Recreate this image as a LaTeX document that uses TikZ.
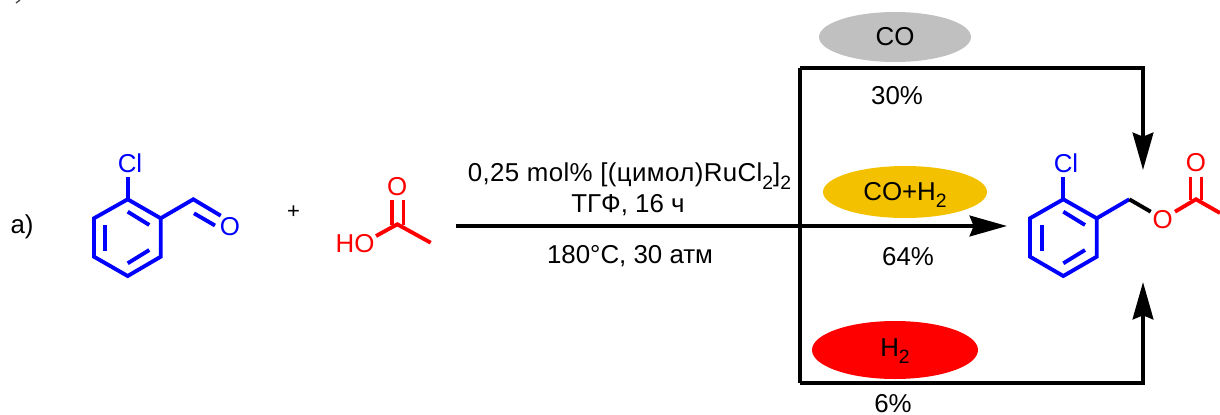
\documentclass[tikz,border=0pt]{standalone}
\usepackage{fontspec}
\setmainfont{Liberation Sans}
\usetikzlibrary{arrows.meta}
\newcommand{\subsc}[1]{\raisebox{-0.3em}{\fontsize{14.5}{14.5}\selectfont #1}}
\definecolor{molblue}{RGB}{0,0,255}
\definecolor{molred}{RGB}{255,0,0}
\definecolor{gasgray}{RGB}{192,192,192}
\definecolor{gasgold}{RGB}{244,193,0}
\tikzset{
  txt/.style={inner sep=0pt,text=black,font=\fontsize{19.4}{23}\selectfont,align=center},
  smalltxt/.style={inner sep=0pt,text=black,font=\fontsize{16.5}{20}\selectfont},
  bluelab/.style={inner sep=0pt,text=molblue,font=\fontsize{19.4}{23}\selectfont},
  redlab/.style={inner sep=0pt,text=molred,font=\fontsize{19.4}{23}\selectfont},
  bluebond/.style={draw=molblue,line width=2.9pt,line join=miter},
  redbond/.style={draw=molred,line width=2.9pt,line join=miter},
  blackbond/.style={draw=black,line width=2.9pt},
  rail/.style={draw=black,line width=2.9pt,line join=miter},
  railarrow/.style={rail,-{Stealth[length=28pt,width=15.5pt,inset=3pt]}},
}
\begin{document}
\begin{tikzpicture}[x=0.75pt,y=-0.75pt]
\useasboundingbox (0,0) rectangle (1220,414);
% clipped fragment at top
\coordinate (fa) at (16,3); \coordinate (fb) at (20,0);
\draw[black!70,line width=1pt] (fa) -- (fb);
% gas ellipses
\fill[gasgray] (895,37) ellipse [x radius=76,y radius=25];
\fill[gasgold] (905,192) ellipse [x radius=82,y radius=26];
\fill[molred] (895,350) ellipse [x radius=83,y radius=29];
% rails
\coordinate (tl) at (800,68); \coordinate (tr) at (1143,68); \coordinate (tt) at (1143,170);
\coordinate (bl) at (800,383); \coordinate (br) at (1143,383); \coordinate (bt) at (1143,282);
\coordinate (ms) at (456,226); \coordinate (mt) at (1007,226);
\draw[railarrow] (tl) -- (tr) -- (tt);
\draw[railarrow] (bl) -- (br) -- (bt);
\draw[rail] (tl) -- (bl);
\draw[railarrow] (ms) -- (mt);
% texts
\node[txt] (lab) at (22,227) {а)};
\node[smalltxt] (plus) at (293.5,212) {+};
\node[txt] (cond1) at (629.5,176) {\addfontfeature{LetterSpace=1.5}0,25 mol\% [(цимол)RuCl\subsc{2}]\subsc{2}};
\node[txt] (cond2) at (628,205) {ТГФ, 16 ч};
\node[txt] (cond3) at (630,256) {180°C, 30 атм};
\node[txt] (co) at (895,37) {CO};
\node[txt] (coh) at (905,195) {CO+H\subsc{2}};
\node[txt] (hh) at (895,351) {H\subsc{2}};
\node[txt] (y1) at (897,96) {30\%};
\node[txt] (y2) at (908,257) {64\%};
\node[txt,anchor=base] (y3) at (893,412.5) {6\%};
% aldehyde
\foreach \n/\x/\y in {a1/127.7/199.3,a2/160.7/218.3,a3/160.7/256.7,a4/127.7/276,a5/94/256.7,a6/94/218.3,
  acl/127.7/177,ac/193.3/199.3,ao1/220.7/215.7,ao2a/194/213.3,ao2b/215/225.5,
  i1a/127.7/211.7,i1b/149.3/225,i2a/105.3/225,i2b/105.3/250.7,i3a/127.7/263.3,i3b/149.3/250}
  \coordinate (\n) at (\x,\y);
\draw[bluebond] (a1) -- (a2) -- (a3) -- (a4) -- (a5) -- (a6) -- cycle;
\draw[bluebond] (a1) -- (acl);
\draw[bluebond] (a2) -- (ac) -- (ao1);
\draw[bluebond] (ao2a) -- (ao2b);
\draw[bluebond] (i1a) -- (i1b); \draw[bluebond] (i2a) -- (i2b); \draw[bluebond] (i3a) -- (i3b);
\node[bluelab] (cl1) at (130,163) {Cl};
\node[bluelab] (o1) at (230,227) {O};
% acid
\foreach \n/\x/\y in {b1/397.3/224.3,b2/430.7/242.7,b3/376/236,d1a/392/200,d1b/392/225,d2a/403.5/200,d2b/403.5/225}
  \coordinate (\n) at (\x,\y);
\draw[redbond] (b3) -- (b1) -- (b2);
\draw[redbond] (d1a) -- (d1b); \draw[redbond] (d2a) -- (d2b);
\node[redlab] (ho) at (355,244) {HO};
\node[redlab] (o2) at (397.3,187) {O};
% product
\foreach \n/\x/\y in {p1/1063.3/199.3,p2/1096.7/218.3,p3/1096.7/256.7,p4/1063.3/276,p5/1030/256.7,p6/1030/218.3,
  pcl/1063.3/177,pc/1129.3/199.3,pe/1150.7/211.7,pr/1175/211.7,pk/1196/199.3,pm/1220/213,
  e1a/1190.5/176.7,e1b/1190.5/200,e2a/1201.5/176.7,e2b/1201.5/200,
  j1a/1063.3/211.7,j1b/1085/225,j2a/1041.7/225,j2b/1041.7/250.7,j3a/1063.3/263.3,j3b/1085/250}
  \coordinate (\n) at (\x,\y);
\draw[bluebond] (p1) -- (p2) -- (p3) -- (p4) -- (p5) -- (p6) -- cycle;
\draw[bluebond] (p1) -- (pcl);
\draw[bluebond] (p2) -- (pc);
\draw[blackbond] (pc) -- (pe);
\draw[bluebond] (j1a) -- (j1b); \draw[bluebond] (j2a) -- (j2b); \draw[bluebond] (j3a) -- (j3b);
\draw[redbond] (pr) -- (pk) -- (pm);
\draw[redbond] (e1a) -- (e1b); \draw[redbond] (e2a) -- (e2b);
\node[bluelab] (cl2) at (1066,163) {Cl};
\node[redlab] (o3) at (1162.7,219.5) {O};
\node[redlab] (o4) at (1196,163) {O};
\end{tikzpicture}
\end{document}
